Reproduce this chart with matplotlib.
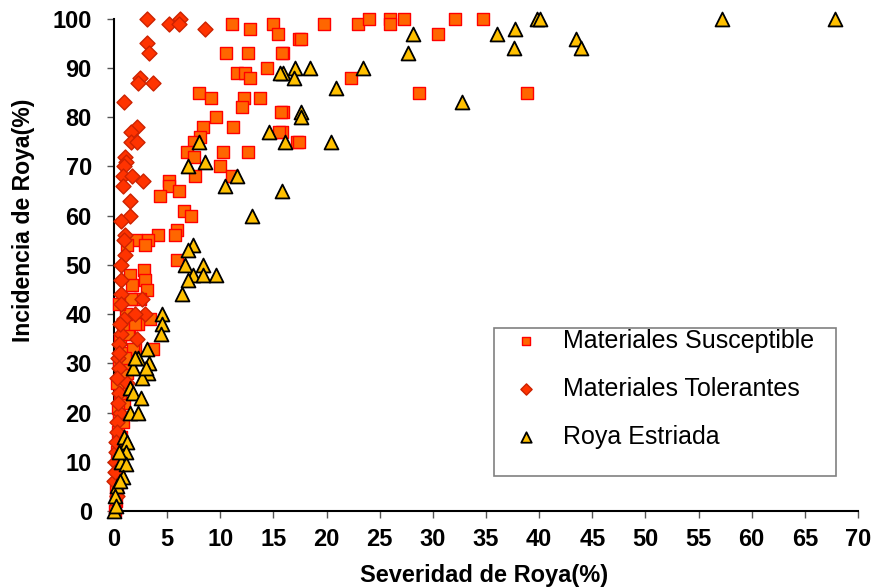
import matplotlib
matplotlib.use('Agg')
import matplotlib.pyplot as plt
from matplotlib.patches import Rectangle

plt.rcParams['font.family'] = ['Liberation Sans', 'DejaVu Sans']

# Materiales Susceptible (severidad %, incidencia %)
sus_x = [11.1, 12.8, 15.0, 15.4, 17.4, 19.8, 23.0, 24.0, 26.0, 26.0, 27.3, 32.1, 34.7, 30.5,
         17.6, 15.9, 22.3, 28.7, 38.9, 15.9, 17.2, 15.8, 10.5, 12.6, 15.8, 11.6, 12.3, 12.8,
         14.4, 8.0, 9.1, 12.2, 13.7, 12.0, 15.7, 9.6, 8.4, 11.2, 15.5, 17.4, 8.1, 7.5, 6.9,
         7.5, 10.3, 12.6, 10.0, 11.1, 7.6, 5.2, 5.2, 6.1, 4.3, 6.6, 7.2, 5.9, 5.7, 4.1, 2.1,
         3.2, 2.9, 1.2, 5.9, 1.5, 2.8, 2.9, 3.1, 1.7, 1.5, 2.4, 3.4, 2.3, 1.4, 3.7, 2.0,
         0.2, 0.3, 0.4, 0.5, 0.3, 0.6, 0.4, 0.8, 0.5, 0.9, 0.6, 1.0, 0.7, 1.2, 0.5, 1.5,
         0.9, 1.8, 0.6, 1.3, 0.8, 2.0, 1.1, 0.5, 1.6, 0.1, 0.2, 0.4, 0.7, 1.0, 0.3]
sus_y = [99, 98, 99, 97, 96, 99, 99, 100, 100, 99, 100, 100, 100, 97,
         96, 93, 88, 85, 85, 81, 75, 77, 93, 93, 93, 89, 89, 88,
         90, 85, 84, 84, 84, 82, 81, 80, 78, 78, 77, 75, 76, 75, 73,
         72, 73, 73, 70, 68, 68, 67, 66, 65, 64, 61, 60, 57, 56, 56, 55,
         55, 54, 54, 51, 48, 49, 47, 45, 46, 43, 43, 39, 38, 36, 33, 33,
         2, 5, 8, 10, 12, 14, 16, 18, 20, 22, 24, 25, 27, 28, 30, 30,
         32, 33, 35, 36, 38, 38, 40, 42, 43, 0, 4, 21, 15, 31, 26]

# Materiales Tolerantes
tol_x = [3.1, 5.2, 6.2, 6.1, 8.6, 3.1, 3.3, 2.4, 2.3, 3.7, 0.9, 2.2, 1.6, 1.6, 2.2, 1.0,
         1.1, 0.9, 0.8, 1.7, 2.7, 0.8, 1.5, 1.5, 0.7, 1.0, 0.9, 1.0, 0.7, 0.7, 0.7, 0.7,
         2.6, 0.9, 2.9, 2.0, 0.7, 2.2, 0.5, 0.4, 0.5, 0.3, 1.2, 0.5, 0.6, 0.3, 0.3, 0.2,
         0.1, 0.0, 0.4, 0.2, 0.1, 0.6, 0.3, 0.5]
tol_y = [100, 99, 100, 99, 98, 95, 93, 88, 87, 87, 83, 78, 77, 75, 75, 72,
         71, 70, 68, 68, 67, 66, 63, 60, 59, 56, 55, 52, 50, 47, 44, 42,
         43, 39, 40, 40, 36, 35, 34, 31, 29, 27, 26, 24, 20, 18, 16, 12,
         10, 6, 22, 14, 8, 38, 3, 32]

# Roya Estriada
roy_x = [57.2, 67.8, 39.8, 40.1, 36.0, 37.7, 37.6, 43.5, 43.9, 28.1, 27.7, 32.7, 15.9, 17.0,
         16.9, 18.4, 23.4, 20.9, 17.6, 17.6, 16.1, 20.4, 15.8, 15.6, 14.6, 8.0, 8.6, 7.0,
         11.6, 10.4, 13.0, 7.4, 7.0, 6.7, 8.4, 7.4, 8.4, 9.6, 7.0, 6.4, 4.5, 4.5, 4.4,
         3.1, 2.3, 3.3, 1.8, 3.2, 2.6, 1.5, 1.8, 2.5, 1.5, 2.3, 0.9, 1.2, 1.1, 0.7, 1.1,
         0.8, 0.3, 0.1, 0.0, 0.2, 0.5, 3.0, 2.0, 0.6]
roy_y = [100, 100, 100, 100, 97, 98, 94, 96, 94, 97, 93, 83, 89, 90,
         88, 90, 90, 86, 81, 80, 75, 75, 65, 89, 77, 75, 71, 70,
         68, 66, 60, 54, 53, 50, 50, 48, 48, 48, 47, 44, 40, 38, 36,
         33, 31, 30, 29, 28, 27, 25, 24, 23, 20, 20, 15, 14, 12, 10, 9.5,
         7, 5, 3, 0, 1, 12, 29, 31, 6]

fig = plt.figure(figsize=(8.79, 5.88), dpi=100)
ax = fig.add_axes([0.1297, 0.131, 0.8464, 0.837])

ax.scatter(sus_x, sus_y, marker='s', s=72, facecolor='#ff6600', edgecolor='#ff0000',
           linewidth=1.0, clip_on=False, zorder=3, label='Materiales Susceptible')
ax.scatter(tol_x, tol_y, marker='D', s=58, facecolor='#ff3300', edgecolor='#cc2200',
           linewidth=1.0, clip_on=False, zorder=3, label='Materiales Tolerantes')
ax.scatter(roy_x, roy_y, marker='^', s=100, facecolor='#ffc000', edgecolor='black',
           linewidth=1.3, clip_on=False, zorder=4, label='Roya Estriada')

ax.set_xlim(0, 70)
ax.set_ylim(0, 100)
ax.set_xticks(range(0, 71, 5))
ax.set_yticks(range(0, 101, 10))
ax.spines['top'].set_visible(False)
ax.spines['right'].set_visible(False)
for sp in ['left', 'bottom']:
    ax.spines[sp].set_linewidth(1.5)
ax.tick_params(direction='out', length=5, width=1, color='#555555', labelsize=17)
ax.tick_params(axis='y', pad=11)
ax.tick_params(axis='x', pad=7)
for lbl in ax.get_xticklabels() + ax.get_yticklabels():
    lbl.set_fontweight('bold')

ax.set_xlabel('Severidad de Roya(%)', fontsize=17, fontweight='bold')
ax.set_ylabel('Incidencia de Roya(%)', fontsize=16.6, fontweight='bold')
ax.xaxis.set_label_coords(0.497, -0.108)
ax.yaxis.set_label_coords(-0.106, 0.59)

# legend box drawn separately (text sits near the top edge as in the original)
ax.add_patch(Rectangle((0.511, 0.071), 0.459, 0.301, transform=ax.transAxes,
                       facecolor='white', edgecolor='#808080', linewidth=1.2, zorder=5))
leg = ax.legend(loc='upper left', bbox_to_anchor=(0.523, 0.39), frameon=False,
                fontsize=18, markerscale=0.75, labelspacing=0.95, handletextpad=1.0,
                handlelength=1.0, borderaxespad=0)
leg.set_zorder(6)

plt.savefig('out.png', dpi=100)
